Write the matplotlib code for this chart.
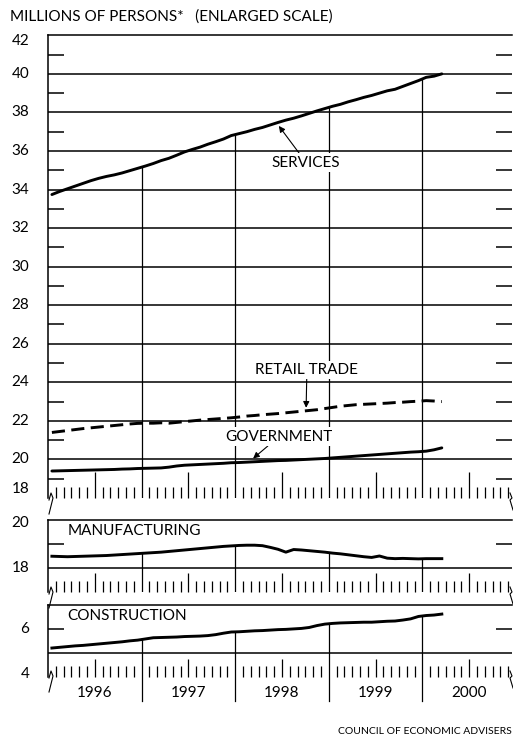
import matplotlib
matplotlib.use("Agg")
import matplotlib.pyplot as plt
from matplotlib.lines import Line2D
import numpy as np

plt.rcParams['font.family'] = ['Lato', 'DejaVu Sans']

## monthly values, Jan 1996 .. Mar 2000 (millions of persons)
services = [33.74, 33.90, 34.04, 34.18, 34.32, 34.46, 34.58, 34.68, 34.76, 34.86, 34.98, 35.10,
            35.22, 35.35, 35.50, 35.62, 35.78, 35.95,
            36.08, 36.20, 36.35, 36.48, 36.62, 36.80,
            36.90, 37.00, 37.12, 37.22, 37.35, 37.48, 37.60, 37.70, 37.82, 37.95, 38.08, 38.20,
            38.32, 38.42, 38.55, 38.66, 38.78, 38.88, 39.00, 39.12, 39.20,
            39.35, 39.50, 39.65, 39.82,
            39.88, 40.00]
retail = [21.40, 21.45, 21.50, 21.55, 21.60, 21.64, 21.68, 21.72, 21.76, 21.80, 21.84, 21.87,
          21.88, 21.88, 21.90, 21.88, 21.92, 21.96, 22.00, 22.04, 22.07, 22.10, 22.13, 22.16,
          22.20, 22.25, 22.28, 22.32, 22.35, 22.38, 22.42, 22.46, 22.50, 22.54, 22.58, 22.64,
          22.70, 22.76, 22.80, 22.84, 22.86, 22.88, 22.90, 22.92, 22.95,
          22.97, 23.00, 23.02, 23.05,
          23.03, 23.00]
government = [19.40, 19.41, 19.42, 19.43, 19.44, 19.45, 19.46, 19.47, 19.48, 19.50, 19.51, 19.53,
              19.54, 19.55, 19.56, 19.60, 19.66, 19.70, 19.72, 19.74, 19.76, 19.78, 19.80, 19.83,
              19.84, 19.86, 19.88, 19.90, 19.92, 19.94, 19.95, 19.97, 19.99, 20.01, 20.03, 20.05,
              20.08, 20.11, 20.14, 20.17, 20.20, 20.23, 20.26, 20.29, 20.32,
              20.35, 20.38, 20.40, 20.43,
              20.50, 20.60]
manufacturing = [18.49, 18.48, 18.47, 18.48, 18.49, 18.50, 18.51, 18.52, 18.54, 18.56, 18.58, 18.60,
                 18.62, 18.64, 18.66, 18.69, 18.72, 18.75, 18.78, 18.81, 18.84, 18.87, 18.90, 18.92,
                 18.94, 18.95, 18.95, 18.93, 18.86, 18.78, 18.66, 18.77, 18.75, 18.72, 18.69, 18.66,
                 18.62, 18.59, 18.55, 18.51, 18.47, 18.44, 18.50, 18.41, 18.39,
                 18.40, 18.39, 18.38, 18.39,
                 18.39, 18.39]
construction = [5.20, 5.23, 5.26, 5.29, 5.31, 5.34, 5.37, 5.40, 5.43, 5.46, 5.50, 5.53,
                5.58, 5.63, 5.64, 5.65, 5.66, 5.68, 5.69, 5.70, 5.72, 5.76, 5.82, 5.87,
                5.88, 5.90, 5.92, 5.93, 5.95, 5.97, 5.98, 6.00, 6.02, 6.06, 6.14, 6.20,
                6.23, 6.25, 6.26, 6.27, 6.28, 6.28, 6.30, 6.32, 6.33,
                6.37, 6.42, 6.52, 6.56,
                6.58, 6.62]
years = ["1996", "1997", "1998", "1999", "2000"]

W, H = 513, 739
LW_DATA = 2.1
LW_GRID = 1.1
LW_THIN = 0.9
XMAX = 59.5
FS = 11

months = np.arange(len(services)) + 0.5
year_bounds = [12, 24, 36, 48]


def px_axes(top, bottom):
  return [48 / W, 1 - bottom / H, 464 / W, (bottom - top) / H]


def style_panel(ax, ylim, grid_vals, minor_vals, label_vals, label_pos, mid_len):
  ax.set_xlim(0, XMAX)
  ax.set_ylim(*ylim)
  for s in ["right", "bottom"]:
    ax.spines[s].set_visible(False)
  ax.spines["left"].set_linewidth(LW_GRID)
  ax.spines["top"].set_linewidth(LW_GRID)
  ax.axhline(ylim[0], color="black", lw=0.6)
  for g in grid_vals:
    ax.axhline(g, color="black", lw=LW_GRID)
  # short ticks left and right
  ax.set_yticks(minor_vals)
  ax.set_yticklabels([])
  ax.tick_params(axis="y", which="major", direction="in", length=11.5, width=LW_GRID,
                 left=True, right=True)
  for v, p in zip(label_vals, label_pos):
    ax.text(-2.4, p, v, ha="right", va="center", fontsize=FS)
  # month ticks on the bottom
  ax.set_xticks([m for m in range(6, 60, 12)])
  ax.set_xticklabels([])
  ax.set_xticks([m for m in range(1, 60) if m % 12 not in (0, 6)], minor=True)
  ax.tick_params(axis="x", which="major", direction="in", length=mid_len, width=LW_THIN)
  ax.tick_params(axis="x", which="minor", direction="in", length=8, width=LW_THIN)


def year_lines(ax, series, ymin, clip=True):
  for b in year_bounds:
    top = np.interp(b, months, series)
    ax.plot([b, b], [ymin, top], color="black", lw=LW_THIN, clip_on=clip, zorder=1)


def break_mark(fig, pts):
  xs = np.array([p[0] for p in pts]) / W
  ys = 1 - np.array([p[1] for p in pts]) / H
  fig.add_artist(Line2D(xs, ys, color="black", lw=0.8))


fig = plt.figure(figsize=(W / 100, H / 100), dpi=100)

## top panel
ax1 = fig.add_axes(px_axes(35.3, 498))
style_panel(ax1, (18, 42), range(20, 42, 2), range(19, 42, 2),
            [str(v) for v in range(42, 17, -2)],
            [41.7] + list(range(40, 19, -2)) + [18.45], 19)
ax1.plot(months, services, color="black", lw=LW_DATA, solid_capstyle="round", zorder=3)
ax1.plot(months, retail, color="black", lw=LW_DATA, dashes=(4.5, 2.2), zorder=3)
ax1.plot(months, government, color="black", lw=LW_DATA, solid_capstyle="round", zorder=3)
year_lines(ax1, services, 18)

arrow = dict(arrowstyle="-|>", color="black", lw=0.8, mutation_scale=9, shrinkA=0, shrinkB=0)
box = dict(boxstyle="square,pad=0.15", fc="white", ec="none")
ax1.annotate("SERVICES", xy=(29.6, 37.3), xytext=(33.1, 35.4), ha="center", va="center",
             fontsize=FS, bbox=box, arrowprops=arrow, zorder=4)
ax1.annotate("RETAIL TRADE", xy=(33.1, 22.68), xytext=(33.2, 24.65), ha="center", va="center",
             fontsize=FS, bbox=box, arrowprops=arrow, zorder=4)
ax1.annotate("GOVERNMENT", xy=(26.3, 20.05), xytext=(29.6, 21.18), ha="center", va="center",
             fontsize=FS, bbox=box, arrowprops=arrow, zorder=4)

## manufacturing
ax2 = fig.add_axes(px_axes(520, 592))
style_panel(ax2, (17, 20), [18], [19], ["20", "18"], [19.87, 18.0], 14)
ax2.plot(months, manufacturing, color="black", lw=LW_DATA, zorder=3)
year_lines(ax2, manufacturing, 17)
ax2.text(2.5, 19.55, "MANUFACTURING", ha="left", va="center", fontsize=FS)

## construction
ax3 = fig.add_axes(px_axes(605, 676.7))
style_panel(ax3, (4, 7), [5], [6], ["6", "4"], [6.0, 4.13], 13)
ax3.plot(months, construction, color="black", lw=LW_DATA, zorder=3)
year_lines(ax3, construction, 3.0, clip=False)
ax3.text(2.5, 6.55, "CONSTRUCTION", ha="left", va="center", fontsize=FS)
for i, y in enumerate(years):
  ax3.text(12 * i + 6, 3.3, y, ha="center", va="center", fontsize=FS)

## axis breaks
for yb in [499, 593, 677]:
  break_mark(fig, [(49, yb + 1), (51, yb - 6), (53, yb - 1), (52, yb + 3), (49, yb + 15)])
  break_mark(fig, [(510, yb - 6), (512, yb - 1), (510, yb + 1), (513, yb + 11)])

fig.text(10 / W, 1 - 17 / H, "MILLIONS OF PERSONS*   (ENLARGED SCALE)", ha="left",
         va="center", fontsize=FS)
fig.text(512 / W, 1 - 732 / H, "COUNCIL OF ECONOMIC ADVISERS", ha="right", va="center",
         fontsize=7.5)

fig.savefig("out.png", dpi=100)
